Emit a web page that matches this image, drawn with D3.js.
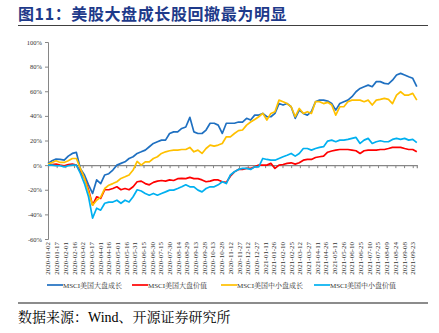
<!DOCTYPE html>
<html><head><meta charset="utf-8">
<script src="https://cdn.jsdelivr.net/npm/d3@7"></script>
<style>
html,body{margin:0;padding:0;background:#fff;}
svg{display:block;}
</style></head>
<body>
<svg id="c" width="439" height="333"></svg>
<script>
const title = "图11：美股大盘成长股回撤最为明显";
const source = "数据来源：Wind、开源证券研究所";
const seriesNames = ["MSCI美国大盘成长","MSCI美国大盘价值","MSCI美国中小盘成长","MSCI美国中小盘价值"];
const seriesColors = ["#1F70C1","#FF0000","#FFC000","#00B0F0"];

const dates = ["2020-01-02","2020-01-09","2020-01-16","2020-01-23","2020-01-30","2020-02-06","2020-02-13","2020-02-20","2020-02-27",
"2020-03-05","2020-03-12","2020-03-19","2020-03-26","2020-04-02","2020-04-09","2020-04-16","2020-04-23","2020-04-30",
"2020-05-07","2020-05-14","2020-05-21","2020-05-28","2020-06-04","2020-06-11","2020-06-18","2020-06-25",
"2020-07-02","2020-07-09","2020-07-16","2020-07-23","2020-07-30","2020-08-06","2020-08-13","2020-08-20","2020-08-27",
"2020-09-03","2020-09-10","2020-09-17","2020-09-24","2020-10-01","2020-10-08","2020-10-15","2020-10-22","2020-10-29",
"2020-11-05","2020-11-12","2020-11-19","2020-11-26","2020-12-03","2020-12-10","2020-12-17","2020-12-24","2020-12-31",
"2021-01-07","2021-01-14","2021-01-21","2021-01-28","2021-02-04","2021-02-11","2021-02-18","2021-02-25",
"2021-03-04","2021-03-11","2021-03-18","2021-03-25","2021-04-01","2021-04-08","2021-04-15","2021-04-22","2021-04-29",
"2021-05-06","2021-05-13","2021-05-20","2021-05-27","2021-06-03","2021-06-10","2021-06-17","2021-06-24",
"2021-07-01","2021-07-08","2021-07-15","2021-07-22","2021-07-29","2021-08-05","2021-08-12","2021-08-19","2021-08-26",
"2021-09-02","2021-09-09","2021-09-16","2021-09-23","2021-09-30"];

const largeGrowth = [1.4,3.5,4.9,4.6,4.0,7.3,9.5,10.3,-3,-8,-16,-23,-12,-15,-8,-7,-4,0,1.4,2.7,5.4,6.8,9.5,10.8,12.2,14.9,17.6,19,20.3,20.3,25.7,27,27,29.8,31,38.8,27,25.7,25.7,28.5,34,34,32.5,25.7,34,34,34,35,35,38,36.6,40.6,40.6,42,39.3,39.3,42,50,48.8,50,47.4,38,44.7,42,40.6,43.4,51.5,52.8,52.8,52,50,44.7,50,51.5,52.8,55.6,59.6,62.3,63.7,65,63.7,67.8,67.8,66.4,65.9,69,73.2,74.5,73.2,71.8,70.5,63.7];
const largeValue = [0.5,0.5,0.8,0,-0.5,0.5,0.8,0,-5.4,-10.8,-20,-32.5,-25.7,-27,-20,-20,-19,-17.6,-20,-19,-20,-17.6,-13.5,-13,-15,-16,-14,-13,-12.5,-13,-12,-12.5,-11,-10.8,-11,-10,-11,-11,-12,-13.5,-13,-12,-12,-13.5,-14,-9,-5.5,-3.5,-3.5,-2.7,-2.7,-1.4,0,0,0,1.4,-2.7,0,0.5,1.4,1.9,0.8,1.9,4,4.6,4.6,6.2,6.8,7.3,10.5,11.5,12.2,12.7,12.7,12.7,12.2,11.7,9.5,11.7,12.2,12.2,12.2,12.7,12.7,13.5,14.4,14.4,14.4,13.5,12.7,12.7,10.8];
const smidGrowth = [0.8,2.2,3.5,2.2,2.2,3.5,5.4,5.4,-2.7,-10.8,-21.7,-32.5,-28.5,-26,-19,-16.3,-15,-13.5,-10.8,-9.5,-8,-4,3,0,2.7,2.7,5.4,6.8,9.5,10.8,11.7,12.2,12.2,12.7,12.7,14.4,10.8,12.2,9.5,13.5,16.3,15.4,16.3,17.6,23,23,25.7,28,28.5,32.5,35,37,39.3,42,36.6,42,43.4,52.8,51.5,50,47.4,39.3,46,42,43.4,42,51.5,51.5,50,51,48.8,40.6,47.4,47.4,51.5,52.8,52.8,52.8,51.5,52.8,48.8,52.8,53.4,54.2,53.4,50,56.9,59.6,56.9,56.9,58.3,52.8];
const smidValue = [0,0,-0.5,-0.5,-1.4,-0.5,0,0,-6.8,-15,-25.7,-43,-35,-36.6,-31,-30,-30,-28.5,-31,-28.5,-30,-25.7,-20,-21,-23,-24.4,-23,-24.4,-23,-21.7,-20.3,-20.3,-19,-17.6,-16,-17.6,-17.6,-20.3,-21.7,-19,-17.6,-17.6,-16,-13.5,-15,-8,-5.4,-3.5,-2.7,-2.7,-3.5,-1.4,-1.4,5.4,4.6,4,4,5.4,6.8,8,9.5,7.3,9.5,13.5,13.5,12.2,13.5,14.4,15,19.5,20.3,19,20.3,20.3,20.9,21.7,22.5,17.6,20.3,21.7,17.6,19,19.8,19,19,20.9,21.7,20.9,21.7,20.3,20.9,18.2];

const yTicks = [-60,-40,-20,0,20,40,60,80,100];
const xTickLabels = ["2020-01-02","2020-01-17","2020-02-01","2020-02-16","2020-03-02","2020-03-17","2020-04-01","2020-04-16",
"2020-05-01","2020-05-16","2020-05-31","2020-06-15","2020-06-30","2020-07-15","2020-07-30","2020-08-14","2020-08-29",
"2020-09-13","2020-09-28","2020-10-13","2020-10-28","2020-11-12","2020-11-27","2020-12-12","2020-12-27",
"2021-01-11","2021-01-26","2021-02-10","2021-02-25","2021-03-12","2021-03-27","2021-04-11","2021-04-26",
"2021-05-11","2021-05-26","2021-06-10","2021-06-25","2021-07-10","2021-07-25","2021-08-09","2021-08-24",
"2021-09-08","2021-09-23"];

const parse = d3.utcParse("%Y-%m-%d");
const svg = d3.select("#c");
const serif = "'Times New Roman','Liberation Serif','Noto Serif CJK SC','Noto Sans CJK SC',serif";
const cjk = "'Noto Sans CJK SC','Noto Serif CJK SC',sans-serif";

// title
svg.append("text").attr("x",18).attr("y",19.5)
  .attr("font-family",cjk).attr("font-weight","bold").attr("font-size",16)
  .attr("letter-spacing",0.6).attr("fill","#1E3A8A").text(title);
svg.append("line").attr("x1",18).attr("x2",428).attr("y1",25.5).attr("y2",25.5)
  .attr("stroke","#404040").attr("stroke-width",1.2);

const x = d3.scaleUtc().domain([parse(dates[0]), parse(dates[dates.length-1])]).range([48, 416.8]);
const y = d3.scaleLinear().domain([-60,100]).range([239,42]);

// y axis
const yAxis = svg.append("g").attr("transform","translate(48,0)")
  .call(d3.axisLeft(y).tickValues(yTicks).tickSize(3).tickFormat(d=>d+"%"));
yAxis.select(".domain").attr("stroke","#868686");
yAxis.selectAll(".tick line").attr("stroke","#868686");
yAxis.selectAll("text").attr("font-family",serif).attr("font-size",6.5).attr("fill","#333").attr("x",-6);

// x axis at zero
const xTicks = xTickLabels.map(parse);
const xAxis = svg.append("g").attr("transform",`translate(0,${y(0)})`)
  .call(d3.axisBottom(x).tickValues(xTicks).tickSize(3).tickFormat(""));
xAxis.select(".domain").attr("stroke","#868686").attr("stroke-width",1.2);
xAxis.selectAll(".tick line").attr("stroke","#868686");

// x labels at bottom
svg.append("g").selectAll("text").data(xTickLabels).join("text")
  .attr("transform",d=>`translate(${x(parse(d))},242) rotate(-90)`)
  .attr("text-anchor","end").attr("dy","0.35em")
  .attr("font-family",serif).attr("font-size",7).attr("fill","#333").text(d=>d);

// lines
const allSeries = [largeGrowth, largeValue, smidGrowth, smidValue];
const line = d3.line().x((d,i)=>x(parse(dates[i]))).y(d=>y(d)).curve(d3.curveLinear);
allSeries.forEach((s,i)=>{
  svg.append("path").datum(s).attr("d",line).attr("fill","none")
    .attr("stroke",seriesColors[i]).attr("stroke-width",1.7).attr("stroke-linejoin","round");
});

// legend
const legX = [63,148,237,330];
const leg = svg.append("g");
seriesNames.forEach((n,i)=>{
  leg.append("line").attr("x1",legX[i]-16).attr("x2",legX[i]).attr("y1",285).attr("y2",285)
    .attr("stroke",seriesColors[i]).attr("stroke-width",1.7);
  leg.append("text").attr("x",legX[i]).attr("y",287.5).attr("font-family",serif)
    .attr("font-size",7).attr("fill","#333").text(n);
});

// bottom
svg.append("line").attr("x1",18).attr("x2",428).attr("y1",303).attr("y2",303)
  .attr("stroke","#8c8c8c").attr("stroke-width",2);
svg.append("text").attr("x",18).attr("y",322).attr("font-family",serif)
  .attr("font-size",14).attr("fill","#000").text(source);
</script>
</body></html>
